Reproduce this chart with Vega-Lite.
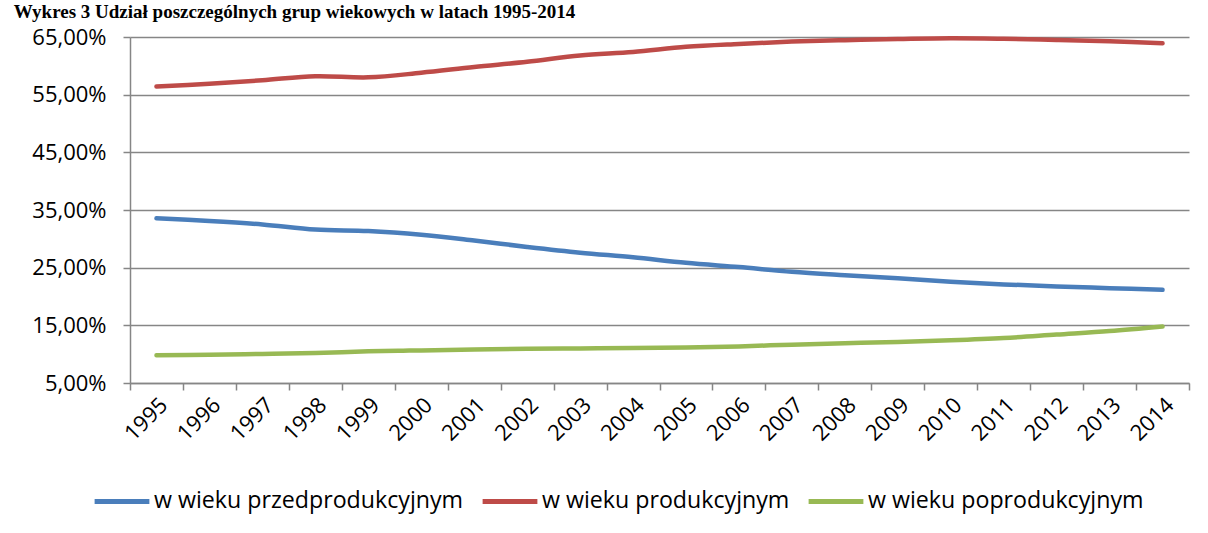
{
  "$schema": "https://vega.github.io/schema/vega-lite/v6.json",
  "width": 1059,
  "height": 346,
  "autosize": {"type": "none"},
  "padding": {"left": 130, "top": 37, "right": 19, "bottom": 150},
  "background": "white",
  "title": {
    "text": "Wykres 3 Udział poszczególnych grup wiekowych w latach 1995-2014",
    "anchor": "start",
    "frame": "bounds",
    "font": "Liberation Serif",
    "fontWeight": "bold",
    "fontSize": 19,
    "color": "#000000",
    "offset": 4,
    "dx": -18
  },
  "data": {
    "values": [
      {"year": "1995", "group": "w wieku przedprodukcyjnym", "value": 33.55},
      {"year": "1996", "group": "w wieku przedprodukcyjnym", "value": 33.1},
      {"year": "1997", "group": "w wieku przedprodukcyjnym", "value": 32.5},
      {"year": "1998", "group": "w wieku przedprodukcyjnym", "value": 31.6},
      {"year": "1999", "group": "w wieku przedprodukcyjnym", "value": 31.35},
      {"year": "2000", "group": "w wieku przedprodukcyjnym", "value": 30.7},
      {"year": "2001", "group": "w wieku przedprodukcyjnym", "value": 29.7},
      {"year": "2002", "group": "w wieku przedprodukcyjnym", "value": 28.6},
      {"year": "2003", "group": "w wieku przedprodukcyjnym", "value": 27.6},
      {"year": "2004", "group": "w wieku przedprodukcyjnym", "value": 26.8},
      {"year": "2005", "group": "w wieku przedprodukcyjnym", "value": 25.85},
      {"year": "2006", "group": "w wieku przedprodukcyjnym", "value": 25.1},
      {"year": "2007", "group": "w wieku przedprodukcyjnym", "value": 24.3},
      {"year": "2008", "group": "w wieku przedprodukcyjnym", "value": 23.7},
      {"year": "2009", "group": "w wieku przedprodukcyjnym", "value": 23.15},
      {"year": "2010", "group": "w wieku przedprodukcyjnym", "value": 22.55},
      {"year": "2011", "group": "w wieku przedprodukcyjnym", "value": 22.1},
      {"year": "2012", "group": "w wieku przedprodukcyjnym", "value": 21.75},
      {"year": "2013", "group": "w wieku przedprodukcyjnym", "value": 21.45},
      {"year": "2014", "group": "w wieku przedprodukcyjnym", "value": 21.15},
      {"year": "1995", "group": "w wieku produkcyjnym", "value": 56.4},
      {"year": "1996", "group": "w wieku produkcyjnym", "value": 56.9},
      {"year": "1997", "group": "w wieku produkcyjnym", "value": 57.5},
      {"year": "1998", "group": "w wieku produkcyjnym", "value": 58.2},
      {"year": "1999", "group": "w wieku produkcyjnym", "value": 58.0},
      {"year": "2000", "group": "w wieku produkcyjnym", "value": 58.8},
      {"year": "2001", "group": "w wieku produkcyjnym", "value": 59.8},
      {"year": "2002", "group": "w wieku produkcyjnym", "value": 60.7},
      {"year": "2003", "group": "w wieku produkcyjnym", "value": 61.8},
      {"year": "2004", "group": "w wieku produkcyjnym", "value": 62.4},
      {"year": "2005", "group": "w wieku produkcyjnym", "value": 63.3},
      {"year": "2006", "group": "w wieku produkcyjnym", "value": 63.8},
      {"year": "2007", "group": "w wieku produkcyjnym", "value": 64.2},
      {"year": "2008", "group": "w wieku produkcyjnym", "value": 64.45},
      {"year": "2009", "group": "w wieku produkcyjnym", "value": 64.65},
      {"year": "2010", "group": "w wieku produkcyjnym", "value": 64.8},
      {"year": "2011", "group": "w wieku produkcyjnym", "value": 64.7},
      {"year": "2012", "group": "w wieku produkcyjnym", "value": 64.5},
      {"year": "2013", "group": "w wieku produkcyjnym", "value": 64.25},
      {"year": "2014", "group": "w wieku produkcyjnym", "value": 63.9},
      {"year": "1995", "group": "w wieku poprodukcyjnym", "value": 9.8},
      {"year": "1996", "group": "w wieku poprodukcyjnym", "value": 9.9},
      {"year": "1997", "group": "w wieku poprodukcyjnym", "value": 10.05},
      {"year": "1998", "group": "w wieku poprodukcyjnym", "value": 10.2},
      {"year": "1999", "group": "w wieku poprodukcyjnym", "value": 10.5},
      {"year": "2000", "group": "w wieku poprodukcyjnym", "value": 10.65},
      {"year": "2001", "group": "w wieku poprodukcyjnym", "value": 10.8},
      {"year": "2002", "group": "w wieku poprodukcyjnym", "value": 10.95},
      {"year": "2003", "group": "w wieku poprodukcyjnym", "value": 11.0},
      {"year": "2004", "group": "w wieku poprodukcyjnym", "value": 11.05},
      {"year": "2005", "group": "w wieku poprodukcyjnym", "value": 11.15},
      {"year": "2006", "group": "w wieku poprodukcyjnym", "value": 11.35},
      {"year": "2007", "group": "w wieku poprodukcyjnym", "value": 11.65},
      {"year": "2008", "group": "w wieku poprodukcyjnym", "value": 11.9},
      {"year": "2009", "group": "w wieku poprodukcyjnym", "value": 12.1},
      {"year": "2010", "group": "w wieku poprodukcyjnym", "value": 12.4},
      {"year": "2011", "group": "w wieku poprodukcyjnym", "value": 12.8},
      {"year": "2012", "group": "w wieku poprodukcyjnym", "value": 13.4},
      {"year": "2013", "group": "w wieku poprodukcyjnym", "value": 14.0},
      {"year": "2014", "group": "w wieku poprodukcyjnym", "value": 14.8}
    ]
  },
  "mark": {"type": "line", "interpolate": "catmull-rom", "strokeWidth": 4.5, "strokeCap": "round"},
  "encoding": {
    "x": {
      "field": "year",
      "type": "ordinal",
      "bandPosition": 0.5,
      "scale": {"type": "band", "paddingInner": 0, "paddingOuter": 0},
      "axis": {
        "title": null,
        "tickBand": "extent",
        "tickSize": 7,
        "tickColor": "#868686",
        "tickWidth": 1.5,
        "domainColor": "#868686",
        "domainWidth": 1.5,
        "labelAngle": -45,
        "labelFont": "Open Sans",
        "labelFontSize": 22,
        "labelColor": "#000000",
        "labelPadding": 4,
        "grid": false
      }
    },
    "y": {
      "field": "value",
      "type": "quantitative",
      "scale": {"domain": [5, 65], "nice": false, "zero": false},
      "axis": {
        "title": null,
        "values": [5, 15, 25, 35, 45, 55, 65],
        "labelExpr": "replace(format(datum.value, '.2f'), '.', ',') + '%'",
        "labelFont": "Open Sans",
        "labelFontSize": 22,
        "labelColor": "#000000",
        "labelPadding": 17,
        "tickSize": 7,
        "tickColor": "#868686",
        "tickWidth": 1.5,
        "domainColor": "#868686",
        "domainWidth": 1.5,
        "grid": true,
        "gridColor": "#868686",
        "gridWidth": 1.5
      }
    },
    "color": {
      "field": "group",
      "type": "nominal",
      "sort": ["w wieku przedprodukcyjnym", "w wieku produkcyjnym", "w wieku poprodukcyjnym"],
      "scale": {
        "domain": ["w wieku przedprodukcyjnym", "w wieku produkcyjnym", "w wieku poprodukcyjnym"],
        "range": ["#4A7EBB", "#BE4B48", "#98B954"]
      },
      "legend": {
        "title": null,
        "orient": "none",
        "legendX": -38,
        "legendY": 434,
        "direction": "horizontal",
        "symbolType": "stroke",
        "symbolSize": 3000,
        "symbolStrokeWidth": 5,
        "labelFont": "Open Sans",
        "labelFontSize": 23.2,
        "labelColor": "#000000",
        "labelOffset": 2,
        "columnPadding": 8,
        "labelLimit": 400
      }
    }
  },
  "config": {
    "view": {"stroke": null}
  }
}
